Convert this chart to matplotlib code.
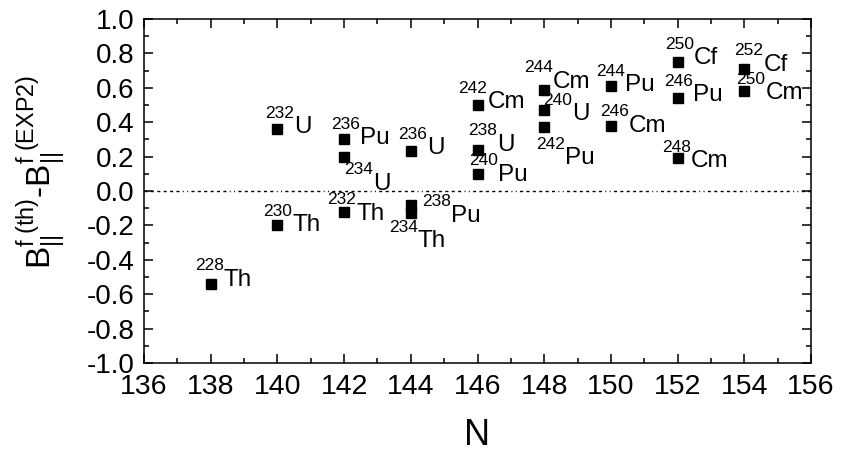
import matplotlib
matplotlib.use('Agg')
import matplotlib.pyplot as plt
from matplotlib.ticker import MultipleLocator

plt.rcParams['font.family'] = ['Liberation Sans', 'DejaVu Sans']
plt.rcParams['mathtext.fontset'] = 'custom'
plt.rcParams['mathtext.rm'] = 'Liberation Sans'
plt.rcParams['mathtext.it'] = 'Liberation Sans'
plt.rcParams['mathtext.default'] = 'regular'

# ── data ───────────────────────────────────────────────────────────────────
elements = ['Th', 'Th', 'U', 'Pu', 'U', 'Th', 'U', 'Pu', 'Th', 'Cm', 'U',
            'Pu', 'Cm', 'U', 'Pu', 'Pu', 'Cm', 'Cf', 'Pu', 'Cm', 'Cf', 'Cm']
masses = [228, 230, 232, 236, 234, 232, 236, 238, 234, 242, 238,
          240, 244, 240, 242, 244, 246, 250, 246, 248, 252, 250]
N = [138, 140, 140, 142, 142, 142, 144, 144, 144, 146, 146,
     146, 148, 148, 148, 150, 150, 152, 152, 152, 154, 154]
dB = [-0.54, -0.20, 0.36, 0.30, 0.20, -0.12, 0.23, -0.08, -0.13, 0.50, 0.24,
      0.10, 0.59, 0.47, 0.37, 0.61, 0.38, 0.75, 0.54, 0.19, 0.71, 0.58]

# label offsets from marker centre (pixels: left edge of mass number, baseline below centre)
label_offsets = [(-16, 2), (-14, 6), (-12, 4), (-13, 5), (0, 33), (-17, 8),
                 (-13, 3), (11, 17), (-22, 34), (-19, 3), (-9, 1), (-8, 7),
                 (-20, -2), (-1, 10), (-8, 37), (-15, 5), (-11, 6), (-13, 2),
                 (-14, 3), (-16, 9), (-10, 2), (-8, 8)]

fig = plt.figure(figsize=(8.64, 4.53), dpi=100, facecolor='white')
ax = fig.add_axes([0.1667, 0.1987, 0.772, 0.7593])

ax.plot(N, dB, linestyle='none', marker='s', markersize=7, color='black',
        zorder=3)

# zero line, dash pattern like the original (dashes then dots)
ax.axhline(0, color='black', linewidth=1.0,
           linestyle=(0, (2.2, 2.4) * 6 + (0.7, 2.4, 0.7, 2.4)), zorder=1)

for el, m, x, y, (dx, dy) in zip(elements, masses, N, dB, label_offsets):
    sup = ax.annotate(str(m), xy=(x, y), xytext=(dx, -dy + 15.5),
                      textcoords='offset pixels', fontsize=12.5,
                      ha='left', va='baseline')
    ax.annotate(el, xy=(1, y), xycoords=(sup, 'data'), xytext=(0, -dy),
                textcoords='offset pixels', fontsize=17.5,
                ha='left', va='baseline')

ax.set_xlim(136, 156)
ax.set_ylim(-1.0, 1.0)
ax.xaxis.set_major_locator(MultipleLocator(2))
ax.xaxis.set_minor_locator(MultipleLocator(1))
ax.yaxis.set_major_locator(MultipleLocator(0.2))
ax.yaxis.set_minor_locator(MultipleLocator(0.1))
ax.yaxis.set_major_formatter(plt.FormatStrFormatter('%.1f'))

ax.tick_params(which='both', direction='in', top=True, right=True,
               width=1.1, color='black')
ax.tick_params(which='major', length=6.2)
ax.tick_params(which='minor', length=3.8)
ax.tick_params(axis='x', labelsize=20.5, pad=8)
ax.tick_params(axis='y', labelsize=20, pad=7)
for spine in ax.spines.values():
    spine.set_linewidth(1.1)

ax.set_xlabel('N', fontsize=26, labelpad=13)
ax.set_ylabel(r'$B_{||}^{f\ (th)}$-$B_{||}^{f\ (EXP2)}$', fontsize=24)
ax.yaxis.set_label_coords(-0.112, 0.555)

plt.savefig('out.png', dpi=100, facecolor='white')
plt.close()
